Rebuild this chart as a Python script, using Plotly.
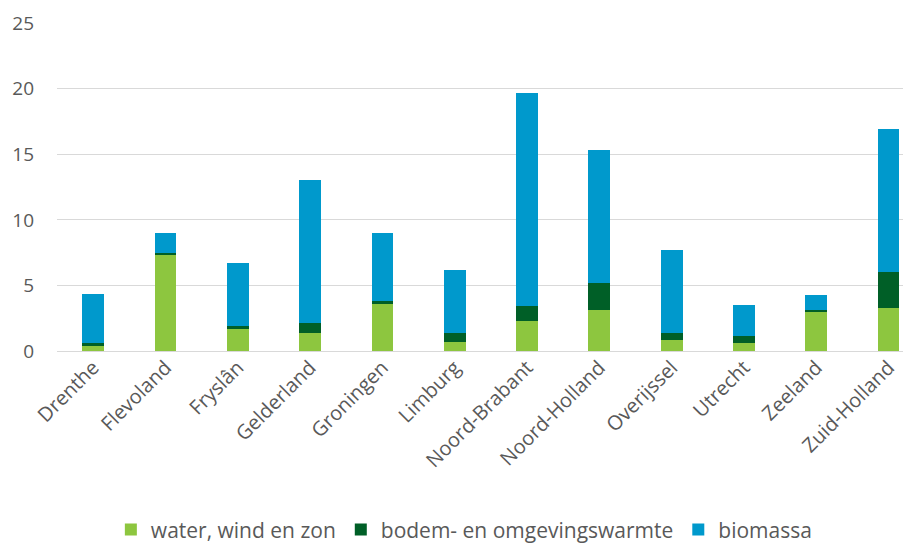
"""Hernieuwbare energie per provincie, gestapelde staafgrafiek."""

import plotly.graph_objects as go

provincies = [
    "Drenthe", "Flevoland", "Fryslân", "Gelderland", "Groningen", "Limburg",
    "Noord-Brabant", "Noord-Holland", "Overijssel", "Utrecht", "Zeeland", "Zuid-Holland",
]
water_wind_zon = [0.45, 7.35, 1.7, 1.37, 3.55, 0.7, 2.3, 3.15, 0.85, 0.58, 3.0, 3.25]
bodem_omgeving = [0.15, 0.15, 0.2, 0.74, 0.25, 0.7, 1.1, 2.0, 0.55, 0.56, 0.15, 2.77]
biomassa = [3.74, 1.5, 4.8, 10.92, 5.2, 4.8, 16.3, 10.15, 6.27, 2.34, 1.14, 10.95]

y_ticks = [0, 5, 10, 15, 20, 25]

series = [
    ("water, wind en zon", water_wind_zon, "#8dc63f"),
    ("bodem- en omgevingswarmte", bodem_omgeving, "#005f27"),
    ("biomassa", biomassa, "#0099cc"),
]

fig = go.Figure()
for name, vals, color in series:
    fig.add_trace(go.Bar(
        x=provincies, y=vals, name=name, width=0.3,
        marker=dict(color=color, line=dict(width=0)),
    ))

# page body adds an 8px offset, so the figure is 8px smaller than the window
fig.update_layout(
    barmode="stack",
    width=903, height=535,
    margin=dict(l=49, r=0, t=15, b=192, autoexpand=False),
    plot_bgcolor="white", paper_bgcolor="white",
    font=dict(family="Open Sans", size=17, color="#595959"),
    legend=dict(
        orientation="h", x=0.477, xanchor="center", y=-0.545, yanchor="middle",
        traceorder="normal", font=dict(size=21, color="#595959"), itemclick=False,
    ),
)
fig.update_xaxes(
    range=[-0.5, 11.31], tickangle=-45, showgrid=False, showline=False,
    ticks="", automargin=False, tickfont=dict(size=20, color="#595959"),
)
fig.update_yaxes(
    range=[0, 25.02], tickvals=y_ticks, showgrid=True, gridcolor="#d9d9d9",
    gridwidth=1.3, zeroline=True, zerolinecolor="#d9d9d9", zerolinewidth=1.3,
    ticks="", automargin=False, ticklabelstandoff=22,
    tickfont=dict(size=19, color="#595959"),
)

fig.write_html("out.html")
